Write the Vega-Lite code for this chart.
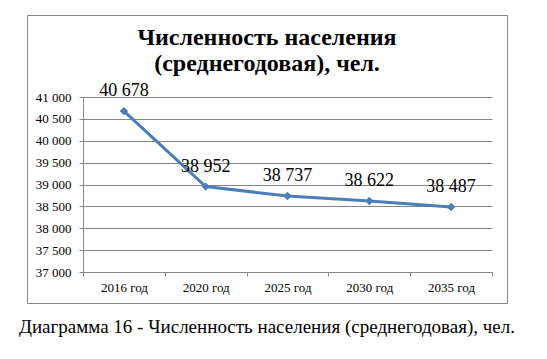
{
  "$schema": "https://vega.github.io/schema/vega-lite/v6.json",
  "padding": {"left": 18, "top": 14, "right": 0, "bottom": 0},
  "background": "white",
  "config": {
    "locale": {"number": {"decimal": ",", "thousands": "\u00a0", "grouping": [3], "currency": ["", ""]}},
    "font": "Times New Roman, Liberation Serif, serif",
    "view": {"stroke": "#868686", "strokeWidth": 1}
  },
  "title": {
    "text": "Диаграмма 16 - Численность населения (среднегодовая), чел.",
    "orient": "bottom", "anchor": "middle", "font": "Times New Roman, Liberation Serif, serif",
    "fontSize": 19, "fontWeight": "normal", "color": "black", "offset": 14
  },
  "data": {"values": [
    {"year": "2016 год", "value": 40678},
    {"year": "2020 год", "value": 38952},
    {"year": "2025 год", "value": 38737},
    {"year": "2030 год", "value": 38622},
    {"year": "2035 год", "value": 38487}
  ]},
  "vconcat": [{
    "width": 480,
    "height": 288,
    "title": {
      "text": ["Численность населения", "(среднегодовая), чел."],
      "fontSize": 24, "fontWeight": "bold", "font": "Times New Roman, Liberation Serif, serif",
      "color": "black", "anchor": "middle", "offset": -61, "lineHeight": 26
    },
    "encoding": {
      "x": {
        "field": "year", "type": "nominal", "sort": null,
        "scale": {"range": [56, 465], "paddingInner": 0, "paddingOuter": 0},
        "axis": {
          "title": null, "labelAngle": 0, "tickBand": "extent", "grid": false,
          "offset": -31, "tickSize": 4, "labelPadding": 5,
          "labelFontSize": 13, "labelColor": "black", "labelFont": "Times New Roman, Liberation Serif, serif",
          "domainColor": "#868686", "tickColor": "#868686"
        }
      },
      "y": {
        "field": "value", "type": "quantitative",
        "scale": {"domain": [37000, 41000], "range": [257, 82], "nice": false, "zero": false},
        "axis": {
          "title": null, "values": [37000, 37500, 38000, 38500, 39000, 39500, 40000, 40500, 41000],
          "format": ",d", "grid": true, "gridColor": "#868686", "gridOpacity": 1,
          "offset": -56, "tickSize": 4, "labelPadding": 8,
          "labelFontSize": 13, "labelColor": "black", "labelFont": "Times New Roman, Liberation Serif, serif",
          "domainColor": "#868686", "tickColor": "#868686"
        }
      }
    },
    "layer": [
      {"mark": {"type": "line", "color": "#4A7EBB", "strokeWidth": 3}},
      {"mark": {"type": "point", "shape": "diamond", "filled": true, "size": 70, "color": "#4A7EBB", "opacity": 1}},
      {"mark": {"type": "text", "fontSize": 18, "dy": -15, "baseline": "alphabetic", "color": "black", "font": "Times New Roman, Liberation Serif, serif"},
       "encoding": {"text": {"field": "value", "type": "quantitative", "format": ",d"}}}
    ]
  }]
}
